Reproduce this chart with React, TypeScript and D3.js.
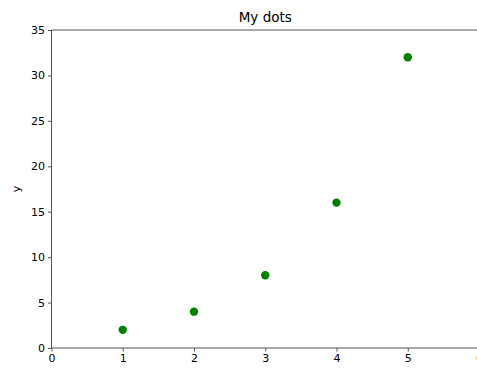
import * as d3 from "d3";
import React, { useEffect, useRef } from "react";

const xValues = [1, 2, 3, 4, 5];
const yValues = [2, 4, 8, 16, 32];
const xTicks = [0, 1, 2, 3, 4, 5, 6];
const yTicks = [0, 5, 10, 15, 20, 25, 30, 35];
const title = "My dots";
const yLabel = "y";

const App: React.FC = () => {
  const svgRef = useRef<SVGSVGElement>(null);
  const width = 477;
  const height = 374;

  useEffect(() => {
    if (!svgRef.current) return;
    const svg = d3.select(svgRef.current);
    svg.selectAll("*").remove();

    const left = 51.5;
    const top = 30;
    const bottom = 348;
    const right = 479;

    const x = d3.scaleLinear().domain([0, 6]).range([left, right]);
    const y = d3.scaleLinear().domain([0, 35]).range([bottom, top]);
    const font = "'DejaVu Sans', sans-serif";

    // spines
    const spine = "#555";
    svg.append("line").attr("x1", left).attr("x2", right).attr("y1", top).attr("y2", top).attr("stroke", spine);
    svg.append("line").attr("x1", left).attr("x2", right).attr("y1", bottom).attr("y2", bottom).attr("stroke", spine);
    svg.append("line").attr("x1", right).attr("x2", right).attr("y1", top).attr("y2", bottom).attr("stroke", spine);

    // x axis
    const xAxis = svg
      .append("g")
      .attr("transform", `translate(0,${bottom})`)
      .call(d3.axisBottom(x).tickValues(xTicks).tickSize(3.5).tickPadding(3).tickFormat(d3.format("d")));
    xAxis.select(".domain").remove();
    xAxis.selectAll("line").attr("stroke", spine);
    xAxis.selectAll("text").attr("fill", "#000").style("font-size", "11px").style("font-family", font);

    // y axis
    const yAxis = svg
      .append("g")
      .attr("transform", `translate(${left},0)`)
      .call(d3.axisLeft(y).tickValues(yTicks).tickSize(3.5).tickPadding(3).tickFormat(d3.format("d")));
    yAxis.select(".domain").attr("stroke", spine).attr("d", `M0,${top}V${bottom}`);
    yAxis.selectAll("line").attr("stroke", spine);
    yAxis.selectAll("text").attr("fill", "#000").style("font-size", "11px").style("font-family", font);

    // dots
    svg
      .append("g")
      .selectAll("circle")
      .data(xValues.map((v, i) => ({ x: v, y: yValues[i] })))
      .join("circle")
      .attr("cx", (d) => x(d.x))
      .attr("cy", (d) => y(d.y))
      .attr("r", 4.2)
      .attr("fill", "#008000");

    // title
    svg
      .append("text")
      .attr("x", (left + right) / 2)
      .attr("y", 22)
      .attr("text-anchor", "middle")
      .style("font-size", "13.5px")
      .style("font-family", font)
      .text(title);

    // y label
    svg
      .append("text")
      .attr("transform", `translate(20,${(top + bottom) / 2}) rotate(-90)`)
      .attr("text-anchor", "middle")
      .style("font-size", "11px")
      .style("font-family", font)
      .text(yLabel);
  }, []);

  return (
    <svg
      ref={svgRef}
      width={width}
      height={height}
      style={{ position: "absolute", left: 0, top: 0, background: "#fff", overflow: "hidden" }}
    />
  );
};

export default App;
